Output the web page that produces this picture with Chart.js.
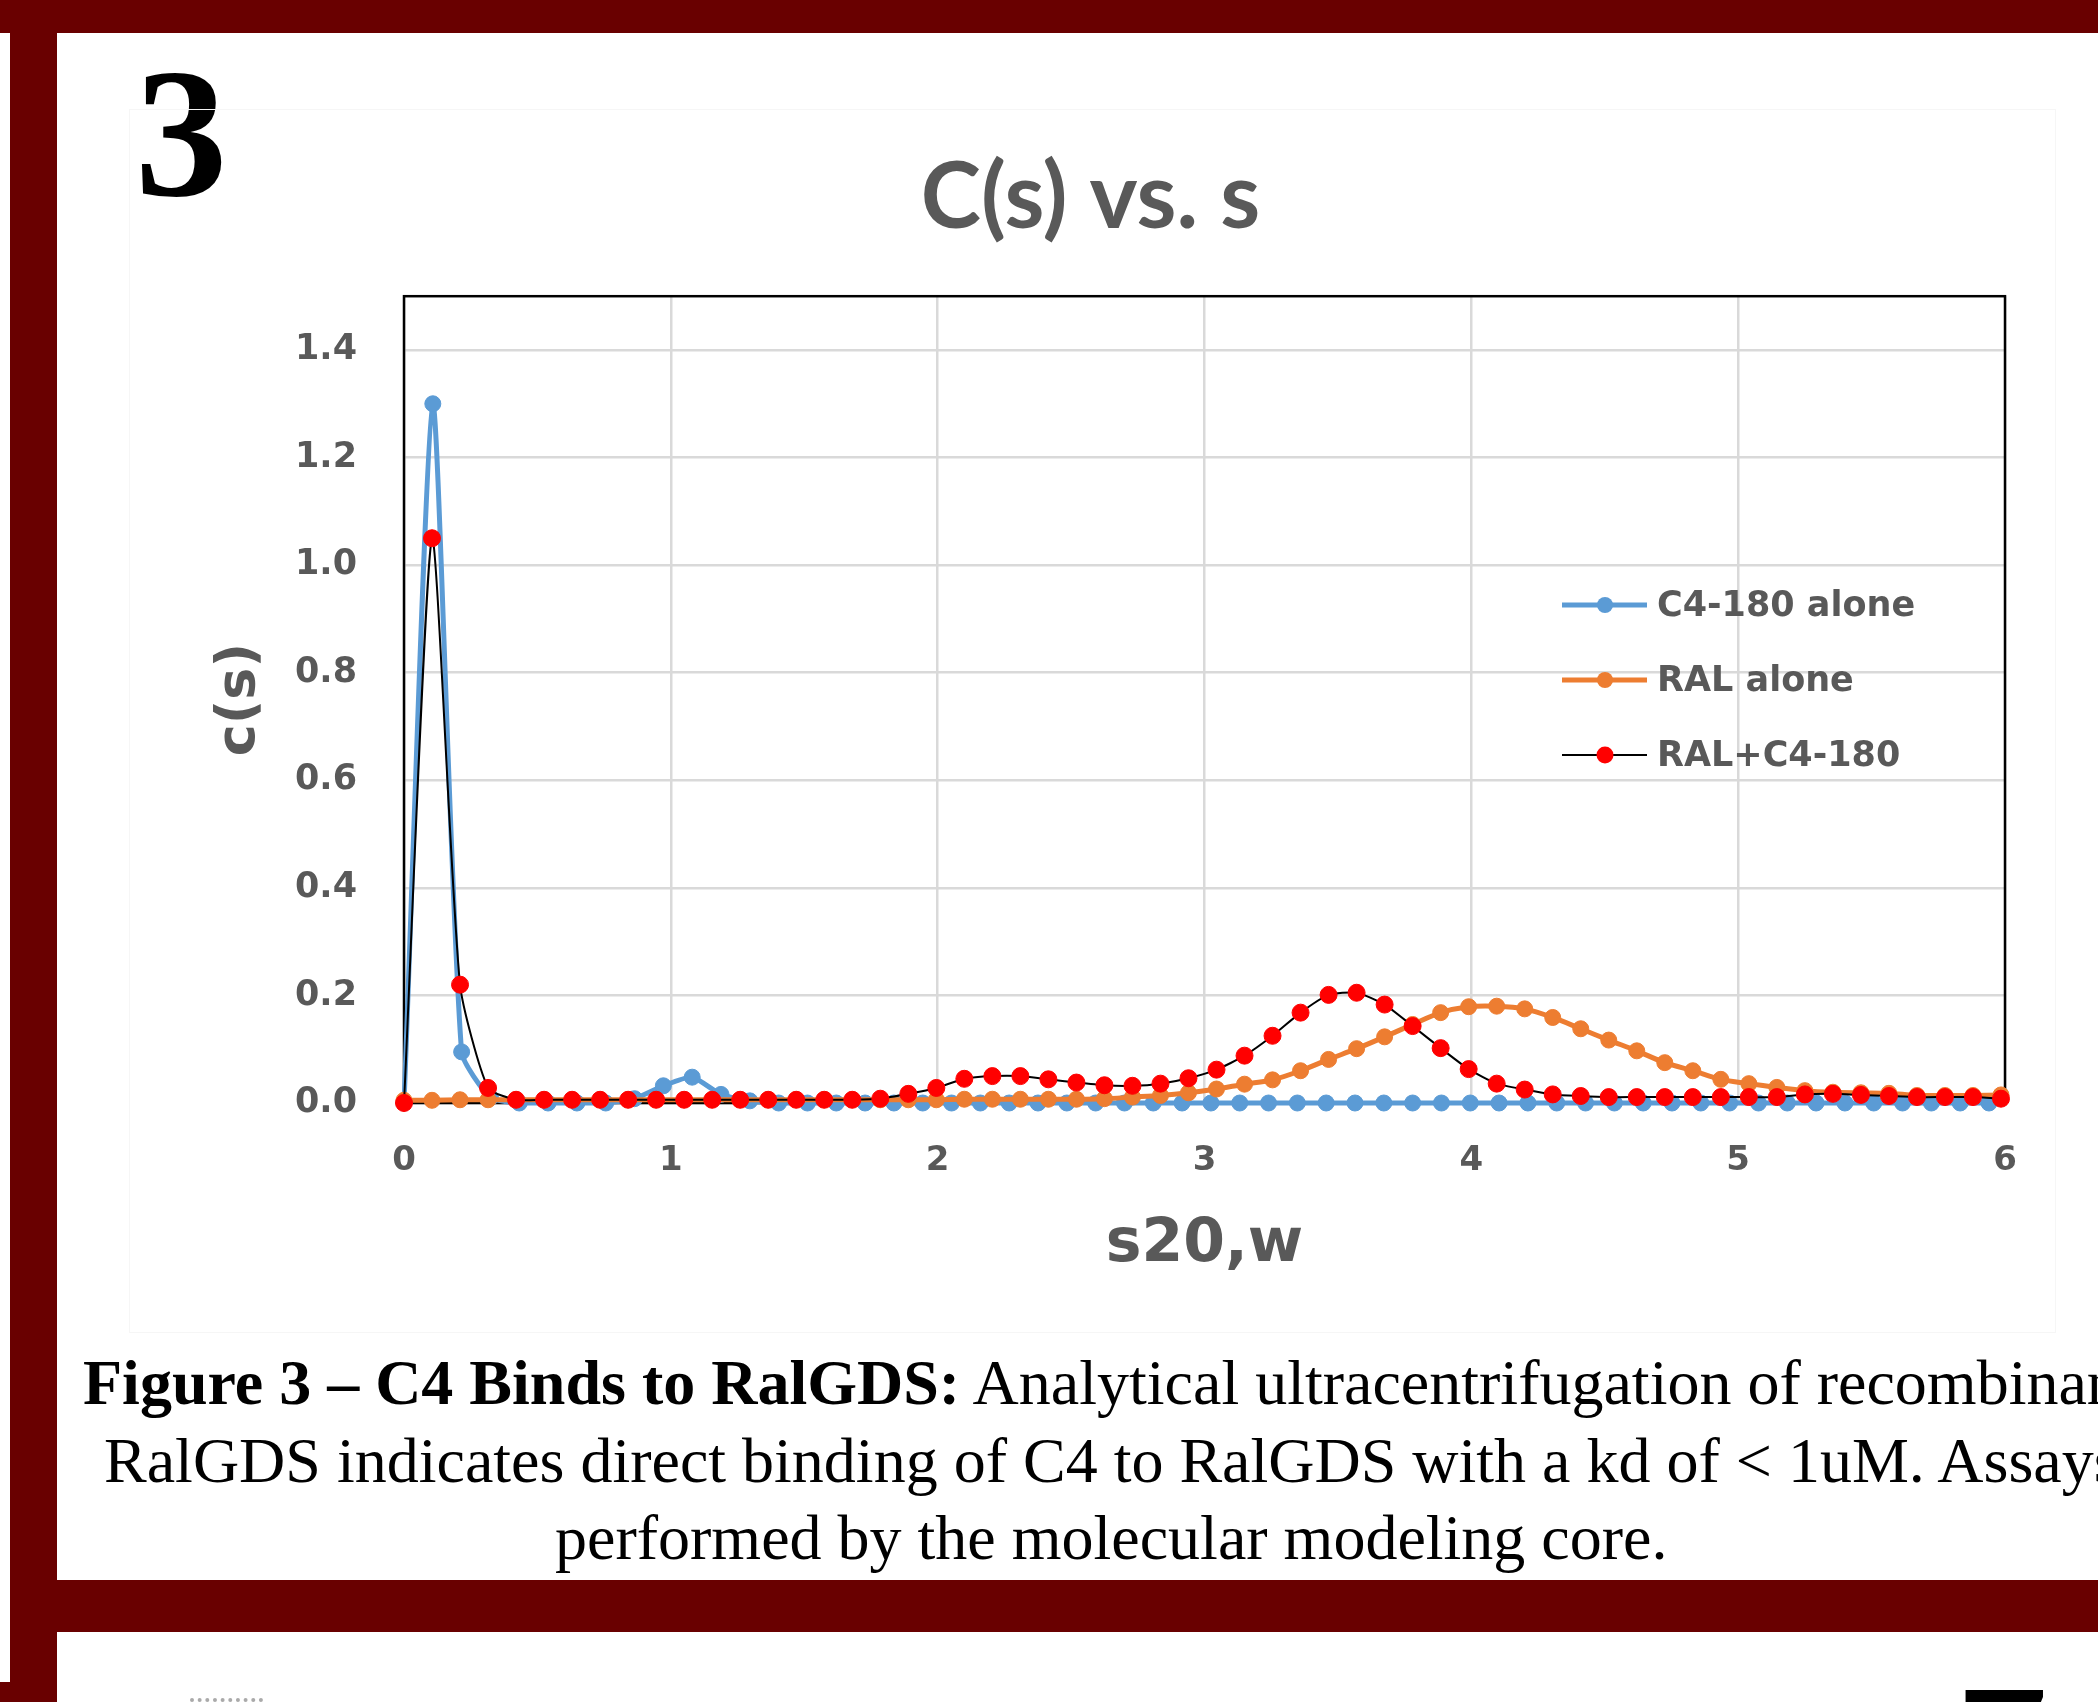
<!DOCTYPE html>
<html>
<head>
<meta charset="utf-8">
<title>C(s) vs. s</title>
<script src="https://cdn.jsdelivr.net/npm/chart.js@4.4.0/dist/chart.umd.min.js"></script>
<style>
  html, body { margin: 0; padding: 0; background: #fff; }
  body { width: 2098px; height: 1702px; position: relative; overflow: hidden; }
  .barra { position: absolute; background: #690000; }
  #num3 { position: absolute; left: 135px; top: 40px; font: bold 185px/185px "Liberation Serif", "Times New Roman", serif; color: #000; }
  #num7 { position: absolute; left: 1955px; top: 1656px; font: bold 185px/185px "Liberation Serif", "Times New Roman", serif; color: #000; }
  #quadro { position: absolute; left: 130px; top: 110px; width: 1925px; height: 1222px; }
  #moldura-img { position: absolute; left: 129px; top: 109px; width: 1925px; height: 1222px; border: 1px solid #f6f6f6; }
  .linha { position: absolute; white-space: nowrap; font: 64px/64px "Liberation Serif", "Times New Roman", serif; color: #000; }
  #pontinhos { position: absolute; left: 190px; top: 1698px; width: 73px; border-top: 4px dotted #aaa; }
</style>
</head>
<body>
<div class="barra" style="left:0;top:0;width:2098px;height:33px"></div>
<div class="barra" style="left:10px;top:0;width:47px;height:1702px"></div>
<div class="barra" style="left:0;top:1682px;width:57px;height:20px"></div>
<div class="barra" style="left:10px;top:1580px;width:2088px;height:52px"></div>

<div id="num3">3</div>
<div id="num7">7</div>
<div id="pontinhos"></div>

<div id="moldura-img"></div>
<div id="quadro"><canvas id="grafico1" width="1925" height="1222"></canvas></div>

<div class="linha" style="left:83px;top:1351px"><b>Figure 3 – C4 Binds to RalGDS:</b> Analytical ultracentrifugation of recombinant</div>
<div class="linha" style="left:104px;top:1429px">RalGDS indicates direct binding of C4 to RalGDS with a kd of &lt; 1uM. Assays were</div>
<div class="linha" style="left:555px;top:1506px">performed by the molecular modeling core.</div>

<script>
// s20,w values (C4-180 alone run)
const sBlue = [0, 0.108, 0.216, 0.324, 0.432, 0.54, 0.648, 0.756, 0.864, 0.972,
  1.08, 1.188, 1.296, 1.404, 1.512, 1.62, 1.728, 1.836, 1.944, 2.052,
  2.16, 2.268, 2.376, 2.484, 2.592, 2.7, 2.808, 2.916, 3.024, 3.132,
  3.24, 3.348, 3.456, 3.564, 3.672, 3.78, 3.888, 3.996, 4.104, 4.212,
  4.32, 4.428, 4.536, 4.644, 4.752, 4.86, 4.968, 5.076, 5.184, 5.292,
  5.4, 5.508, 5.616, 5.724, 5.832, 5.94];
const cBlue = [0, 1.30, 0.095, 0.01, 0, 0, 0, 0, 0.008, 0.032,
  0.048, 0.016, 0.004, 0, 0, 0, 0, 0, 0, 0,
  0, 0, 0, 0, 0, 0, 0, 0, 0, 0,
  0, 0, 0, 0, 0, 0, 0, 0, 0, 0,
  0, 0, 0, 0, 0, 0, 0, 0, 0, 0,
  0, 0, 0, 0, 0, 0];

// s20,w values (RAL alone and RAL+C4-180 runs)
const sRal = [0, 0.105, 0.21, 0.315, 0.42, 0.525, 0.63, 0.735, 0.84, 0.945,
  1.05, 1.155, 1.26, 1.365, 1.47, 1.575, 1.68, 1.785, 1.89, 1.995,
  2.1, 2.205, 2.31, 2.415, 2.52, 2.625, 2.73, 2.835, 2.94, 3.045,
  3.15, 3.255, 3.36, 3.465, 3.57, 3.675, 3.78, 3.885, 3.99, 4.095,
  4.2, 4.305, 4.41, 4.515, 4.62, 4.725, 4.83, 4.935, 5.04, 5.145,
  5.25, 5.355, 5.46, 5.565, 5.67, 5.775, 5.88, 5.985];
const cRal = [0.005, 0.005, 0.006, 0.006, 0.006, 0.006, 0.006, 0.006, 0.006, 0.006,
  0.006, 0.006, 0.006, 0.006, 0.006, 0.006, 0.006, 0.006, 0.006, 0.006,
  0.007, 0.007, 0.007, 0.007, 0.007, 0.008, 0.011, 0.014, 0.019, 0.026,
  0.035, 0.043, 0.06, 0.081, 0.101, 0.123, 0.146, 0.168, 0.179, 0.18,
  0.175, 0.159, 0.138, 0.117, 0.097, 0.075, 0.06, 0.044, 0.036, 0.029,
  0.023, 0.02, 0.019, 0.018, 0.014, 0.014, 0.014, 0.015];
const cMistura = [0, 1.05, 0.22, 0.028, 0.006, 0.006, 0.006, 0.006, 0.006, 0.006,
  0.006, 0.006, 0.006, 0.006, 0.006, 0.006, 0.006, 0.008, 0.017, 0.028,
  0.045, 0.05, 0.05, 0.044, 0.038, 0.033, 0.032, 0.036, 0.046, 0.062,
  0.088, 0.125, 0.168, 0.201, 0.205, 0.183, 0.143, 0.102, 0.063, 0.036,
  0.025, 0.016, 0.013, 0.011, 0.011, 0.011, 0.011, 0.011, 0.011, 0.011,
  0.016, 0.017, 0.015, 0.013, 0.011, 0.011, 0.011, 0.008];

const rotulos = ["C4-180 alone", "RAL alone", "RAL+C4-180"];

function pares(xs, ys) {
  return xs.map(function (x, i) { return { x: x, y: ys[i] }; });
}

const cinza = "#595959";

// caixa preta da area do grafico + legenda no estilo do Excel
const moldura = {
  id: "moldura",
  beforeDatasetsDraw(chart) {
    const a = chart.chartArea;
    const ctx = chart.ctx;
    ctx.save();
    ctx.strokeStyle = "#000";
    ctx.lineWidth = 2.5;
    ctx.strokeRect(a.left, a.top, a.right - a.left, a.bottom - a.top);
    ctx.restore();
  },
  afterDatasetsDraw(chart) {
    const ctx = chart.ctx;
    const linhasY = [495, 570, 645];
    ctx.save();
    ctx.font = "bold 35px 'DejaVu Sans'";
    ctx.textBaseline = "middle";
    ctx.textAlign = "left";
    chart.data.datasets.forEach(function (ds, i) {
      const y = linhasY[i];
      ctx.strokeStyle = ds.borderColor;
      ctx.lineWidth = ds.borderWidth;
      ctx.beginPath();
      ctx.moveTo(1432, y);
      ctx.lineTo(1517, y);
      ctx.stroke();
      ctx.fillStyle = ds.pointBackgroundColor;
      ctx.beginPath();
      ctx.arc(1475, y, ds.pointRadius, 0, Math.PI * 2);
      ctx.fill();
      ctx.fillStyle = cinza;
      ctx.fillText(ds.label, 1527, y + 2);
    });
    ctx.restore();
  }
};

const ctx = document.getElementById("grafico1");

new Chart(ctx, {
  type: "line",
  data: {
    datasets: [
      {
        label: rotulos[0],
        data: pares(sBlue, cBlue),
        borderColor: "#5b9bd5",
        backgroundColor: "#5b9bd5",
        pointBackgroundColor: "#5b9bd5",
        pointBorderColor: "#5b9bd5",
        borderWidth: 5,
        pointRadius: 8,
        pointBorderWidth: 1,
        tension: 0.2,
        order: 3,
      },
      {
        label: rotulos[1],
        data: pares(sRal, cRal),
        borderColor: "#ed7d31",
        backgroundColor: "#ed7d31",
        pointBackgroundColor: "#ed7d31",
        pointBorderColor: "#ed7d31",
        borderWidth: 5,
        pointRadius: 8,
        pointBorderWidth: 1,
        tension: 0.3,
        order: 2,
      },
      {
        label: rotulos[2],
        data: pares(sRal, cMistura),
        borderColor: "#000",
        backgroundColor: "#ff0000",
        pointBackgroundColor: "#ff0000",
        pointBorderColor: "#ff0000",
        borderWidth: 2,
        pointRadius: 8.5,
        pointBorderWidth: 1,
        tension: 0.2,
        order: 1,
      },
    ],
  },
  options: {
    responsive: false,
    animation: false,
    clip: false,
    layout: {
      padding: { left: 46, right: 50, top: 0, bottom: 0 },
    },
    scales: {
      x: {
        type: "linear",
        min: 0,
        max: 6,
        ticks: {
          stepSize: 1,
          padding: 38,
          color: cinza,
          font: { family: "DejaVu Sans", size: 34, weight: "bold" },
        },
        grid: { color: "#d9d9d9", lineWidth: 2.5, drawTicks: false },
        border: { display: false },
        title: {
          display: true,
          text: "s20,w",
          color: cinza,
          font: { family: "DejaVu Sans", size: 60, weight: "bold" },
          padding: { top: 0, bottom: 51 },
        },
        afterFit: function (scale) { scale.height = 229; },
      },
      y: {
        min: 0,
        max: 1.5,
        ticks: {
          stepSize: 0.2,
          includeBounds: false,
          padding: 47,
          color: cinza,
          font: { family: "DejaVu Sans", size: 35, weight: "bold" },
          callback: function (v) { return v.toFixed(1); },
        },
        grid: { color: "#d9d9d9", lineWidth: 2.5, drawTicks: false },
        border: { display: false },
        title: {
          display: true,
          text: "c(s)",
          color: cinza,
          font: { family: "DejaVu Sans", size: 54, weight: "bold" },
          padding: { top: 32, bottom: 0 },
        },
        afterFit: function (scale) { scale.width = 228; },
      },
    },
    plugins: {
      legend: { display: false },
      tooltip: { enabled: false },
      title: {
        display: true,
        text: "C(s) vs. s",
        color: cinza,
        font: { family: "Lato", size: 91, weight: "bold" },
        padding: { top: 34, bottom: 43 },
      },
    },
  },
  plugins: [moldura],
});
</script>
</body>
</html>
